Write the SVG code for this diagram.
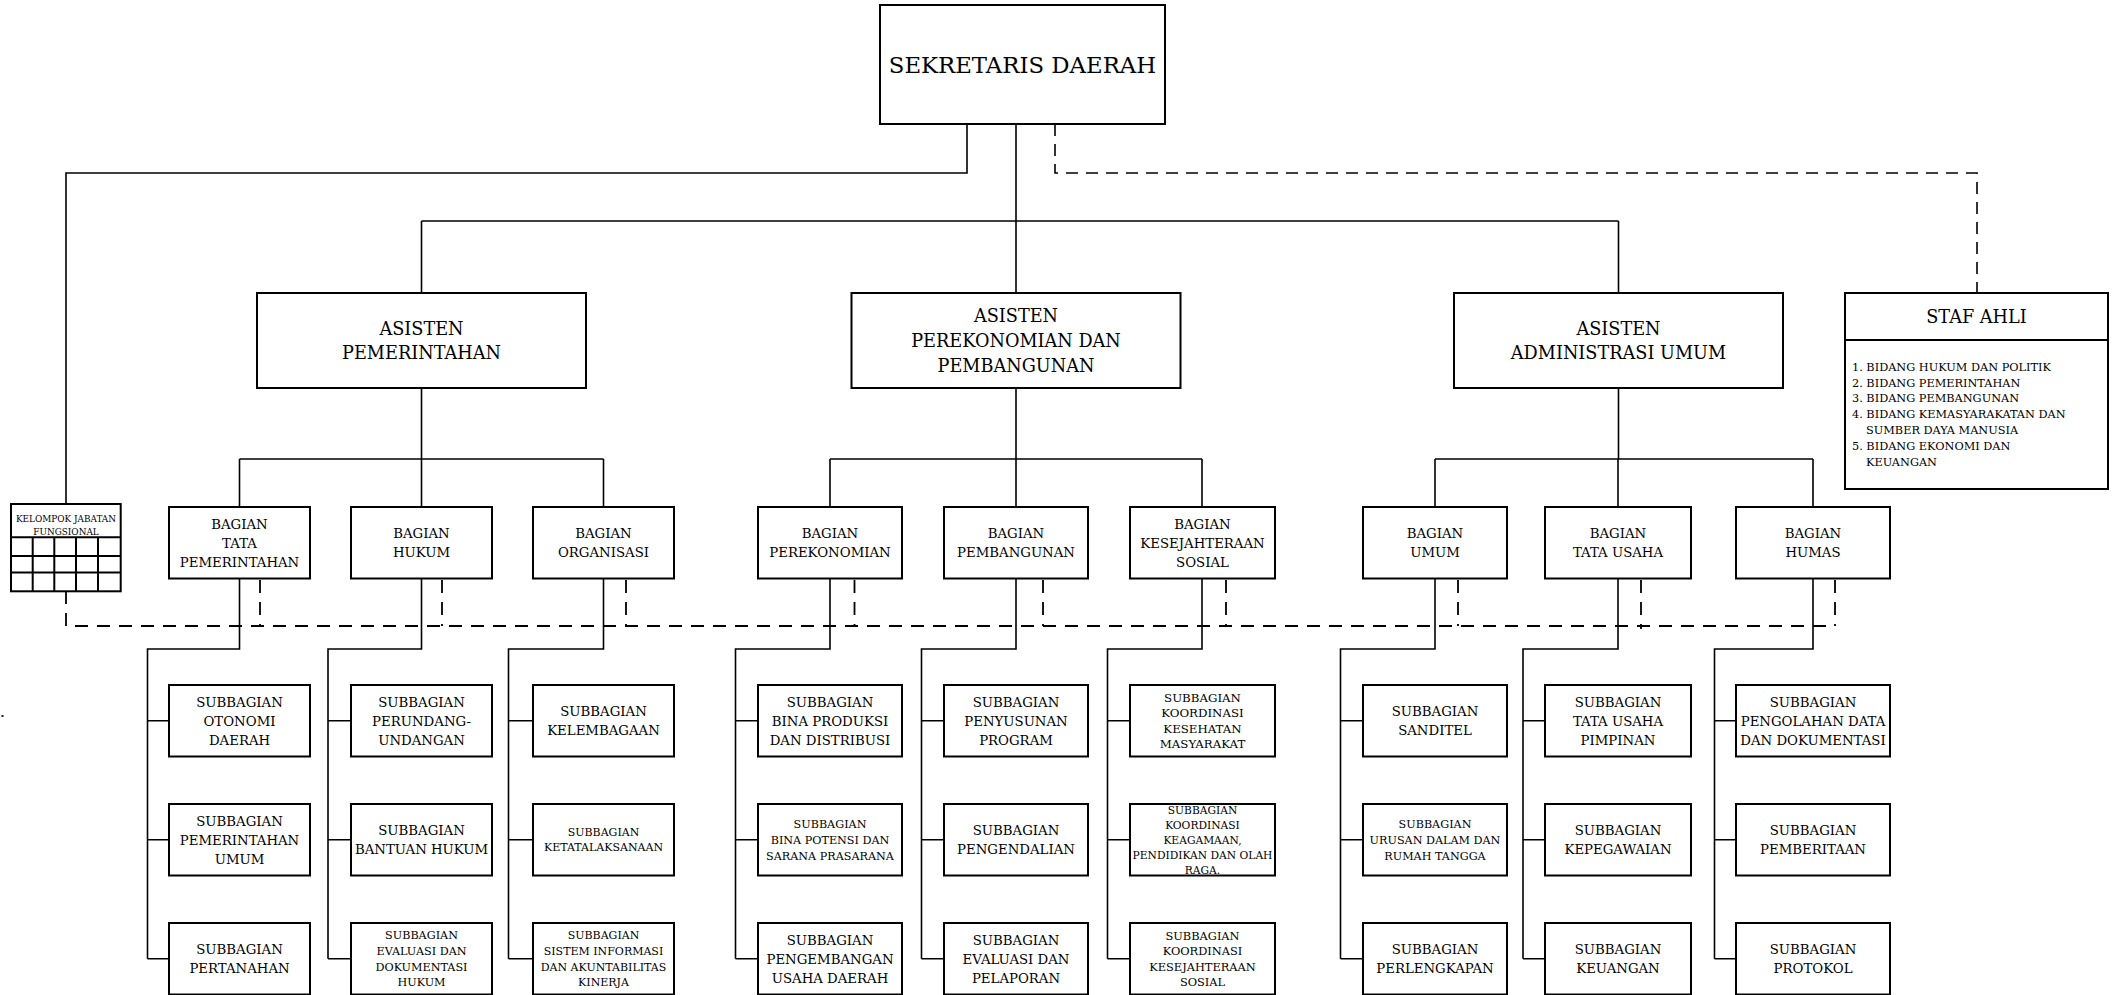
<svg xmlns="http://www.w3.org/2000/svg" width="2112" height="995" viewBox="0 0 2112 995">
  <defs>
    <style>
      .box { fill: #fff; stroke: #000; stroke-width: 2; }
      .ln { fill: none; stroke: #000; stroke-width: 1.6; }
      .dsh { fill: none; stroke: #000; stroke-width: 1.8; stroke-dasharray: 13 9; }
      .dshT { fill: none; stroke: #000; stroke-width: 1.6; stroke-dasharray: 12 8; }
      text { font-family: "DejaVu Serif", "Liberation Serif", serif; fill: #000; text-anchor: middle; }
      .f23 { font-size: 22.8px; }
      .f18 { font-size: 17.7px; }
      .f13 { font-size: 13.3px; }
      .f12 { font-size: 11.8px; }
      .f11 { font-size: 11.2px; }
      .f10 { font-size: 10.7px; }
      .f9 { font-size: 8.9px; }
      .lst { font-size: 11.3px; text-anchor: start; }
    </style>
  </defs>

  <!-- connectors -->
  <g id="connectors">
    <!-- Sekretaris Daerah to the three assistants -->
    <path class="ln" d="M1016 124 V293 M421.5 221 H1618.5 M421.5 221 V293 M1618.5 221 V293"/>
    <!-- Sekretaris Daerah to Kelompok Jabatan Fungsional -->
    <path class="ln" d="M967 124 V173 H66 V504"/>
    <!-- Sekretaris Daerah to Staf Ahli (coordination) -->
    <path class="dshT" d="M1055 124 V173 H1977 V293"/>

    <!-- assistants to their bagian -->
    <path class="ln" d="M421.5 388 V459 M239.5 459 H603.5 M239.5 459 V507 M421.5 459 V507 M603.5 459 V507"/>
    <path class="ln" d="M1016 388 V459 M830 459 H1202 M830 459 V507 M1016 459 V507 M1202 459 V507"/>
    <path class="ln" d="M1618.5 388 V459 M1435 459 H1813 M1435 459 V507 M1618 459 V507 M1813 459 V507"/>

    <!-- functional group coordination line -->
    <path class="dsh" d="M66 591 V626 H1835"/>
    <path class="dsh" d="M260 580 V626 M442 580 V626 M626 580 V626 M854.5 580 V626 M1043 580 V626 M1226 580 V626 M1458 580 V626 M1641 580 V629 M1835 580 V626"/>

    <!-- bagian to subbagian -->
    <path class="ln" d="M239.5 578.5 V649 H147.5 V958.75 M147.5 720.75 H169 M147.5 839.75 H169 M147.5 958.75 H169"/>
    <path class="ln" d="M421.5 578.5 V649 H328 V958.75 M328 720.75 H351 M328 839.75 H351 M328 958.75 H351"/>
    <path class="ln" d="M603.5 578.5 V649 H508.5 V958.75 M508.5 720.75 H533 M508.5 839.75 H533 M508.5 958.75 H533"/>
    <path class="ln" d="M830 578.5 V649 H735.5 V958.75 M735.5 720.75 H758 M735.5 839.75 H758 M735.5 958.75 H758"/>
    <path class="ln" d="M1016 578.5 V649 H921.5 V958.75 M921.5 720.75 H944 M921.5 839.75 H944 M921.5 958.75 H944"/>
    <path class="ln" d="M1202 578.5 V649 H1107.5 V958.75 M1107.5 720.75 H1130 M1107.5 839.75 H1130 M1107.5 958.75 H1130"/>
    <path class="ln" d="M1435 578.5 V649 H1340.5 V958.75 M1340.5 720.75 H1363 M1340.5 839.75 H1363 M1340.5 958.75 H1363"/>
    <path class="ln" d="M1618 578.5 V649 H1523 V958.75 M1523 720.75 H1545 M1523 839.75 H1545 M1523 958.75 H1545"/>
    <path class="ln" d="M1813 578.5 V649 H1714.5 V958.75 M1714.5 720.75 H1736 M1714.5 839.75 H1736 M1714.5 958.75 H1736"/>
  </g>

  <!-- top level -->
  <g id="sekretaris-daerah">
    <rect class="box" x="880" y="5" width="285" height="119"/>
    <text class="f23" x="1022.5" y="72.8">SEKRETARIS DAERAH</text>
  </g>

  <!-- assistants -->
  <g id="asisten-pemerintahan">
    <rect class="box" x="257" y="293" width="329" height="95"/>
    <text class="f18" x="421.5" y="334.9">ASISTEN<tspan x="421.5" dy="24">PEMERINTAHAN</tspan></text>
  </g>
  <g id="asisten-perekonomian">
    <rect class="box" x="851.5" y="293" width="329" height="95"/>
    <text class="f18" x="1016" y="321.9">ASISTEN<tspan x="1016" dy="25">PEREKONOMIAN DAN</tspan><tspan x="1016" dy="25">PEMBANGUNAN</tspan></text>
  </g>
  <g id="asisten-administrasi">
    <rect class="box" x="1454" y="293" width="329" height="95"/>
    <text class="f18" x="1618.5" y="334.9">ASISTEN<tspan x="1618.5" dy="24">ADMINISTRASI UMUM</tspan></text>
  </g>

  <!-- expert staff -->
  <g id="staf-ahli">
    <rect class="box" x="1845" y="293" width="263" height="196"/>
    <line class="ln" x1="1845" y1="340" x2="2108" y2="340" style="stroke-width:2"/>
    <text class="f18" x="1976.5" y="322.9">STAF AHLI</text>
    <text class="lst" x="1852" y="370.8">1. BIDANG HUKUM DAN POLITIK<tspan x="1852" dy="15.8">2. BIDANG PEMERINTAHAN</tspan><tspan x="1852" dy="15.8">3. BIDANG PEMBANGUNAN</tspan><tspan x="1852" dy="15.8">4. BIDANG KEMASYARAKATAN DAN</tspan><tspan x="1866" dy="15.8">SUMBER DAYA MANUSIA</tspan><tspan x="1852" dy="15.8">5. BIDANG EKONOMI DAN</tspan><tspan x="1866" dy="15.8">KEUANGAN</tspan></text>
  </g>

  <!-- functional group -->
  <g id="kelompok-jabatan-fungsional">
    <rect class="box" x="11" y="504" width="109.7" height="87.3"/>
    <path class="ln" style="stroke-width:2" d="M11 537.3 H120.7 M11 556 H120.7 M11 572.5 H120.7 M32.7 537.3 V591.3 M54.3 537.3 V591.3 M76 537.3 V591.3 M98 537.3 V591.3"/>
    <text class="f9" x="66" y="521.5">KELOMPOK JABATAN<tspan x="66" dy="13.4">FUNGSIONAL</tspan></text>
  </g>
  <rect x="1.5" y="715" width="2" height="2" fill="#222"/>

  <!-- bagian under Asisten Pemerintahan -->
  <g id="bagian-tata-pemerintahan">
    <rect class="box" x="169" y="507" width="141" height="71.5"/>
    <text class="f13" x="239.5" y="528.6">BAGIAN<tspan x="239.5" dy="19">TATA</tspan><tspan x="239.5" dy="19">PEMERINTAHAN</tspan></text>
  </g>
  <g id="bagian-hukum">
    <rect class="box" x="351" y="507" width="141" height="71.5"/>
    <text class="f13" x="421.5" y="538.1">BAGIAN<tspan x="421.5" dy="19">HUKUM</tspan></text>
  </g>
  <g id="bagian-organisasi">
    <rect class="box" x="533" y="507" width="141" height="71.5"/>
    <text class="f13" x="603.5" y="538.1">BAGIAN<tspan x="603.5" dy="19">ORGANISASI</tspan></text>
  </g>

  <!-- bagian under Asisten Perekonomian dan Pembangunan -->
  <g id="bagian-perekonomian">
    <rect class="box" x="758" y="507" width="144" height="71.5"/>
    <text class="f13" x="830" y="538.1">BAGIAN<tspan x="830" dy="19">PEREKONOMIAN</tspan></text>
  </g>
  <g id="bagian-pembangunan">
    <rect class="box" x="944" y="507" width="144" height="71.5"/>
    <text class="f13" x="1016" y="538.1">BAGIAN<tspan x="1016" dy="19">PEMBANGUNAN</tspan></text>
  </g>
  <g id="bagian-kesejahteraan-sosial">
    <rect class="box" x="1130" y="507" width="145" height="71.5"/>
    <text class="f13" x="1202.5" y="528.6">BAGIAN<tspan x="1202.5" dy="19">KESEJAHTERAAN</tspan><tspan x="1202.5" dy="19">SOSIAL</tspan></text>
  </g>

  <!-- bagian under Asisten Administrasi Umum -->
  <g id="bagian-umum">
    <rect class="box" x="1363" y="507" width="144" height="71.5"/>
    <text class="f13" x="1435" y="538.1">BAGIAN<tspan x="1435" dy="19">UMUM</tspan></text>
  </g>
  <g id="bagian-tata-usaha">
    <rect class="box" x="1545" y="507" width="146" height="71.5"/>
    <text class="f13" x="1618" y="538.1">BAGIAN<tspan x="1618" dy="19">TATA USAHA</tspan></text>
  </g>
  <g id="bagian-humas">
    <rect class="box" x="1736" y="507" width="154" height="71.5"/>
    <text class="f13" x="1813" y="538.1">BAGIAN<tspan x="1813" dy="19">HUMAS</tspan></text>
  </g>

  <!-- subbagian: Tata Pemerintahan -->
  <g id="sub-otonomi-daerah">
    <rect class="box" x="169" y="685" width="141" height="71.5"/>
    <text class="f13" x="239.5" y="706.6">SUBBAGIAN<tspan x="239.5" dy="19">OTONOMI</tspan><tspan x="239.5" dy="19">DAERAH</tspan></text>
  </g>
  <g id="sub-pemerintahan-umum">
    <rect class="box" x="169" y="804" width="141" height="71.5"/>
    <text class="f13" x="239.5" y="825.6">SUBBAGIAN<tspan x="239.5" dy="19">PEMERINTAHAN</tspan><tspan x="239.5" dy="19">UMUM</tspan></text>
  </g>
  <g id="sub-pertanahan">
    <rect class="box" x="169" y="923" width="141" height="71.5"/>
    <text class="f13" x="239.5" y="954.1">SUBBAGIAN<tspan x="239.5" dy="19">PERTANAHAN</tspan></text>
  </g>

  <!-- subbagian: Hukum -->
  <g id="sub-perundang-undangan">
    <rect class="box" x="351" y="685" width="141" height="71.5"/>
    <text class="f13" x="421.5" y="706.6">SUBBAGIAN<tspan x="421.5" dy="19">PERUNDANG-</tspan><tspan x="421.5" dy="19">UNDANGAN</tspan></text>
  </g>
  <g id="sub-bantuan-hukum">
    <rect class="box" x="351" y="804" width="141" height="71.5"/>
    <text class="f13" x="421.5" y="835.1">SUBBAGIAN<tspan x="421.5" dy="19">BANTUAN HUKUM</tspan></text>
  </g>
  <g id="sub-evaluasi-dokumentasi-hukum">
    <rect class="box" x="351" y="923" width="141" height="71.5"/>
    <text class="f11" x="421.5" y="939.3">SUBBAGIAN<tspan x="421.5" dy="15.7">EVALUASI DAN</tspan><tspan x="421.5" dy="15.7">DOKUMENTASI</tspan><tspan x="421.5" dy="15.7">HUKUM</tspan></text>
  </g>

  <!-- subbagian: Organisasi -->
  <g id="sub-kelembagaan">
    <rect class="box" x="533" y="685" width="141" height="71.5"/>
    <text class="f13" x="603.5" y="716.1">SUBBAGIAN<tspan x="603.5" dy="19">KELEMBAGAAN</tspan></text>
  </g>
  <g id="sub-ketatalaksanaan">
    <rect class="box" x="533" y="804" width="141" height="71.5"/>
    <text class="f11" x="603.5" y="836.3" style="font-size:11px">SUBBAGIAN<tspan x="603.5" dy="15">KETATALAKSANAAN</tspan></text>
  </g>
  <g id="sub-sistem-informasi">
    <rect class="box" x="533" y="923" width="141" height="71.5"/>
    <text class="f11" x="603.5" y="939.3" style="font-size:11px">SUBBAGIAN<tspan x="603.5" dy="15.7">SISTEM INFORMASI</tspan><tspan x="603.5" dy="15.7">DAN AKUNTABILITAS</tspan><tspan x="603.5" dy="15.7">KINERJA</tspan></text>
  </g>

  <!-- subbagian: Perekonomian -->
  <g id="sub-bina-produksi">
    <rect class="box" x="758" y="685" width="144" height="71.5"/>
    <text class="f13" x="830" y="706.6">SUBBAGIAN<tspan x="830" dy="19">BINA PRODUKSI</tspan><tspan x="830" dy="19">DAN DISTRIBUSI</tspan></text>
  </g>
  <g id="sub-bina-potensi">
    <rect class="box" x="758" y="804" width="144" height="71.5"/>
    <text class="f11" x="830" y="828.1">SUBBAGIAN<tspan x="830" dy="15.7">BINA POTENSI DAN</tspan><tspan x="830" dy="15.7">SARANA PRASARANA</tspan></text>
  </g>
  <g id="sub-pengembangan-usaha">
    <rect class="box" x="758" y="923" width="144" height="71.5"/>
    <text class="f13" x="830" y="944.6">SUBBAGIAN<tspan x="830" dy="19">PENGEMBANGAN</tspan><tspan x="830" dy="19">USAHA DAERAH</tspan></text>
  </g>

  <!-- subbagian: Pembangunan -->
  <g id="sub-penyusunan-program">
    <rect class="box" x="944" y="685" width="144" height="71.5"/>
    <text class="f13" x="1016" y="706.6">SUBBAGIAN<tspan x="1016" dy="19">PENYUSUNAN</tspan><tspan x="1016" dy="19">PROGRAM</tspan></text>
  </g>
  <g id="sub-pengendalian">
    <rect class="box" x="944" y="804" width="144" height="71.5"/>
    <text class="f13" x="1016" y="835.1">SUBBAGIAN<tspan x="1016" dy="19">PENGENDALIAN</tspan></text>
  </g>
  <g id="sub-evaluasi-pelaporan">
    <rect class="box" x="944" y="923" width="144" height="71.5"/>
    <text class="f13" x="1016" y="944.6">SUBBAGIAN<tspan x="1016" dy="19">EVALUASI DAN</tspan><tspan x="1016" dy="19">PELAPORAN</tspan></text>
  </g>

  <!-- subbagian: Kesejahteraan Sosial -->
  <g id="sub-kesehatan-masyarakat">
    <rect class="box" x="1130" y="685" width="145" height="71.5"/>
    <text class="f12" x="1202.5" y="701.8">SUBBAGIAN<tspan x="1202.5" dy="15.5">KOORDINASI</tspan><tspan x="1202.5" dy="15.5">KESEHATAN</tspan><tspan x="1202.5" dy="15.5">MASYARAKAT</tspan></text>
  </g>
  <g id="sub-keagamaan-pendidikan">
    <rect class="box" x="1130" y="804" width="145" height="71.5"/>
    <text class="f10" x="1202.5" y="813.7">SUBBAGIAN<tspan x="1202.5" dy="15">KOORDINASI</tspan><tspan x="1202.5" dy="15">KEAGAMAAN,</tspan><tspan x="1202.5" dy="15">PENDIDIKAN DAN OLAH</tspan><tspan x="1202.5" dy="15">RAGA.</tspan></text>
  </g>
  <g id="sub-kesejahteraan-sosial">
    <rect class="box" x="1130" y="923" width="145" height="71.5"/>
    <text class="f11" x="1202.5" y="939.5" style="font-size:11.4px">SUBBAGIAN<tspan x="1202.5" dy="15.6">KOORDINASI</tspan><tspan x="1202.5" dy="15.6">KESEJAHTERAAN</tspan><tspan x="1202.5" dy="15.6">SOSIAL</tspan></text>
  </g>

  <!-- subbagian: Umum -->
  <g id="sub-sanditel">
    <rect class="box" x="1363" y="685" width="144" height="71.5"/>
    <text class="f13" x="1435" y="716.1">SUBBAGIAN<tspan x="1435" dy="19">SANDITEL</tspan></text>
  </g>
  <g id="sub-urusan-dalam">
    <rect class="box" x="1363" y="804" width="144" height="71.5"/>
    <text class="f11" x="1435" y="828.1">SUBBAGIAN<tspan x="1435" dy="15.7">URUSAN DALAM DAN</tspan><tspan x="1435" dy="15.7">RUMAH TANGGA</tspan></text>
  </g>
  <g id="sub-perlengkapan">
    <rect class="box" x="1363" y="923" width="144" height="71.5"/>
    <text class="f13" x="1435" y="954.1">SUBBAGIAN<tspan x="1435" dy="19">PERLENGKAPAN</tspan></text>
  </g>

  <!-- subbagian: Tata Usaha -->
  <g id="sub-tata-usaha-pimpinan">
    <rect class="box" x="1545" y="685" width="146" height="71.5"/>
    <text class="f13" x="1618" y="706.6">SUBBAGIAN<tspan x="1618" dy="19">TATA USAHA</tspan><tspan x="1618" dy="19">PIMPINAN</tspan></text>
  </g>
  <g id="sub-kepegawaian">
    <rect class="box" x="1545" y="804" width="146" height="71.5"/>
    <text class="f13" x="1618" y="835.1">SUBBAGIAN<tspan x="1618" dy="19">KEPEGAWAIAN</tspan></text>
  </g>
  <g id="sub-keuangan">
    <rect class="box" x="1545" y="923" width="146" height="71.5"/>
    <text class="f13" x="1618" y="954.1">SUBBAGIAN<tspan x="1618" dy="19">KEUANGAN</tspan></text>
  </g>

  <!-- subbagian: Humas -->
  <g id="sub-pengolahan-data">
    <rect class="box" x="1736" y="685" width="154" height="71.5"/>
    <text class="f13" x="1813" y="706.6">SUBBAGIAN<tspan x="1813" dy="19">PENGOLAHAN DATA</tspan><tspan x="1813" dy="19">DAN DOKUMENTASI</tspan></text>
  </g>
  <g id="sub-pemberitaan">
    <rect class="box" x="1736" y="804" width="154" height="71.5"/>
    <text class="f13" x="1813" y="835.1">SUBBAGIAN<tspan x="1813" dy="19">PEMBERITAAN</tspan></text>
  </g>
  <g id="sub-protokol">
    <rect class="box" x="1736" y="923" width="154" height="71.5"/>
    <text class="f13" x="1813" y="954.1">SUBBAGIAN<tspan x="1813" dy="19">PROTOKOL</tspan></text>
  </g>
</svg>
